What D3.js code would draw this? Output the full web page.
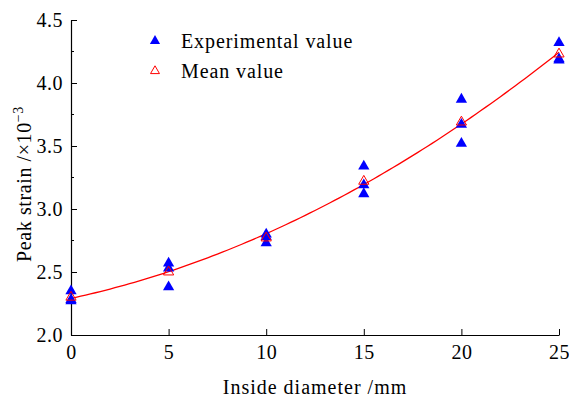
<!DOCTYPE html>
<html>
<head>
<meta charset="utf-8">
<script src="https://cdn.jsdelivr.net/npm/d3@7"></script>
<style>
  body { margin: 0; background: #fff; }
  text { font-family: "Liberation Serif", "Times New Roman", serif; }
</style>
</head>
<body>
<div id="chart"></div>
<script>
// data
const diameters = [0, 5, 10, 15, 20, 25];
const expValues = [
  [2.35, 2.28, 2.27],
  [2.57, 2.53, 2.38],
  [2.80, 2.78, 2.73],
  [3.34, 3.19, 3.12],
  [3.87, 3.67, 3.52],
  [4.32, 4.19, 4.18]
];
const meanValues = [2.30, 2.50, 2.77, 3.22, 3.69, 4.23];
const xTicks = [0, 5, 10, 15, 20, 25];
const yTicks = [2.0, 2.5, 3.0, 3.5, 4.0, 4.5];

const width = 569, height = 401;
const margin = {top: 20, right: 10, bottom: 66, left: 71};

const svg = d3.select("#chart")
    .append("svg")
    .attr("width", width)
    .attr("height", height);

const x = d3.scaleLinear().domain([0, 25]).range([margin.left, 559]);
const y = d3.scaleLinear().domain([2.0, 4.5]).range([335, margin.top]);

// quadratic least squares fit of the mean values
function quadFit(xs, ys) {
  let s = [0, 0, 0, 0, 0], t = [0, 0, 0];
  xs.forEach((xi, i) => {
    for (let k = 0; k < 5; k++) s[k] += Math.pow(xi, k);
    for (let k = 0; k < 3; k++) t[k] += ys[i] * Math.pow(xi, k);
  });
  const A = [[s[0], s[1], s[2], t[0]], [s[1], s[2], s[3], t[1]], [s[2], s[3], s[4], t[2]]];
  for (let i = 0; i < 3; i++) {
    for (let j = i + 1; j < 3; j++) {
      const f = A[j][i] / A[i][i];
      for (let k = i; k < 4; k++) A[j][k] -= f * A[i][k];
    }
  }
  const c = [0, 0, 0];
  for (let i = 2; i >= 0; i--) {
    let v = A[i][3];
    for (let k = i + 1; k < 3; k++) v -= A[i][k] * c[k];
    c[i] = v / A[i][i];
  }
  return c;
}
const coef = quadFit(diameters, meanValues);
const curve = d3.range(0, 25.01, 0.25).map(d => [d, coef[0] + coef[1] * d + coef[2] * d * d]);

svg.append("path")
    .datum(curve)
    .attr("fill", "none")
    .attr("stroke", "#ff0000")
    .attr("stroke-width", 1.3)
    .attr("d", d3.line().x(d => x(d[0])).y(d => y(d[1])));

// axes
const xAxis = d3.axisBottom(x).tickValues(xTicks).tickSizeInner(-6).tickSizeOuter(0).tickPadding(10).tickFormat(d3.format("d"));
const yAxis = d3.axisLeft(y).tickValues(yTicks).tickSizeInner(-6).tickSizeOuter(0).tickPadding(8).tickFormat(d3.format(".1f"));

const gx = svg.append("g").attr("transform", `translate(0,${y(2.0)})`).call(xAxis);
const gy = svg.append("g").attr("transform", `translate(${x(0)},0)`).call(yAxis);

// minor y ticks
gy.selectAll(".minor")
    .data(d3.range(2.25, 4.5, 0.5))
    .enter().append("line")
    .attr("x1", 0).attr("x2", 3)
    .attr("y1", d => y(d)).attr("y2", d => y(d))
    .attr("stroke", "#000");

[gx, gy].forEach(g => {
  g.select(".domain").attr("stroke", "#000").attr("stroke-width", 1.2);
  g.selectAll(".tick line").attr("stroke", "#000");
  g.selectAll(".tick text").attr("font-size", 20).attr("fill", "#000")
    .style("font-family", "'Liberation Serif', serif")
    .style("letter-spacing", "0.5px");
});

// markers
const triUp = d3.symbol().type(d3.symbolTriangle);

const expPts = [];
diameters.forEach((d, i) => expValues[i].forEach(v => expPts.push([d, v])));

svg.append("g").selectAll("path")
    .data(expPts)
    .enter().append("path")
    .attr("d", triUp.size(55))
    .attr("transform", d => `translate(${x(d[0])},${y(d[1])})`)
    .attr("fill", "#0000ff");

svg.append("g").selectAll("path")
    .data(diameters.map((d, i) => [d, meanValues[i]]))
    .enter().append("path")
    .attr("d", d3.symbol().type(d3.symbolTriangle).size(45))
    .attr("transform", d => `translate(${x(d[0])},${y(d[1])})`)
    .attr("fill", "none")
    .attr("stroke", "#ff0000")
    .attr("stroke-width", 1);

// legend
const legend = svg.append("g").style("letter-spacing", "0.9px");
legend.append("path")
    .attr("d", d3.symbol().type(d3.symbolTriangle).size(45))
    .attr("transform", "translate(155,41)")
    .attr("fill", "#0000ff");
legend.append("text").attr("x", 181).attr("y", 48).attr("font-size", 20).text("Experimental value");
legend.append("path")
    .attr("d", d3.symbol().type(d3.symbolTriangle).size(35))
    .attr("transform", "translate(155,71)")
    .attr("fill", "none").attr("stroke", "#ff0000");
legend.append("text").attr("x", 181).attr("y", 78).attr("font-size", 20).text("Mean value");

// axis titles
svg.append("text")
    .attr("x", (x(0) + x(25)) / 2).attr("y", 394)
    .attr("text-anchor", "middle").attr("font-size", 20)
    .style("letter-spacing", "1px")
    .text("Inside diameter /mm");

const yt = svg.append("text")
    .attr("transform", `translate(31,184) rotate(-90)`)
    .attr("text-anchor", "middle").attr("font-size", 20)
    .style("letter-spacing", "0.6px");
yt.append("tspan").text("Peak strain /×10");
yt.append("tspan").attr("dy", -8).attr("font-size", 14).text("−3");
</script>
</body>
</html>
